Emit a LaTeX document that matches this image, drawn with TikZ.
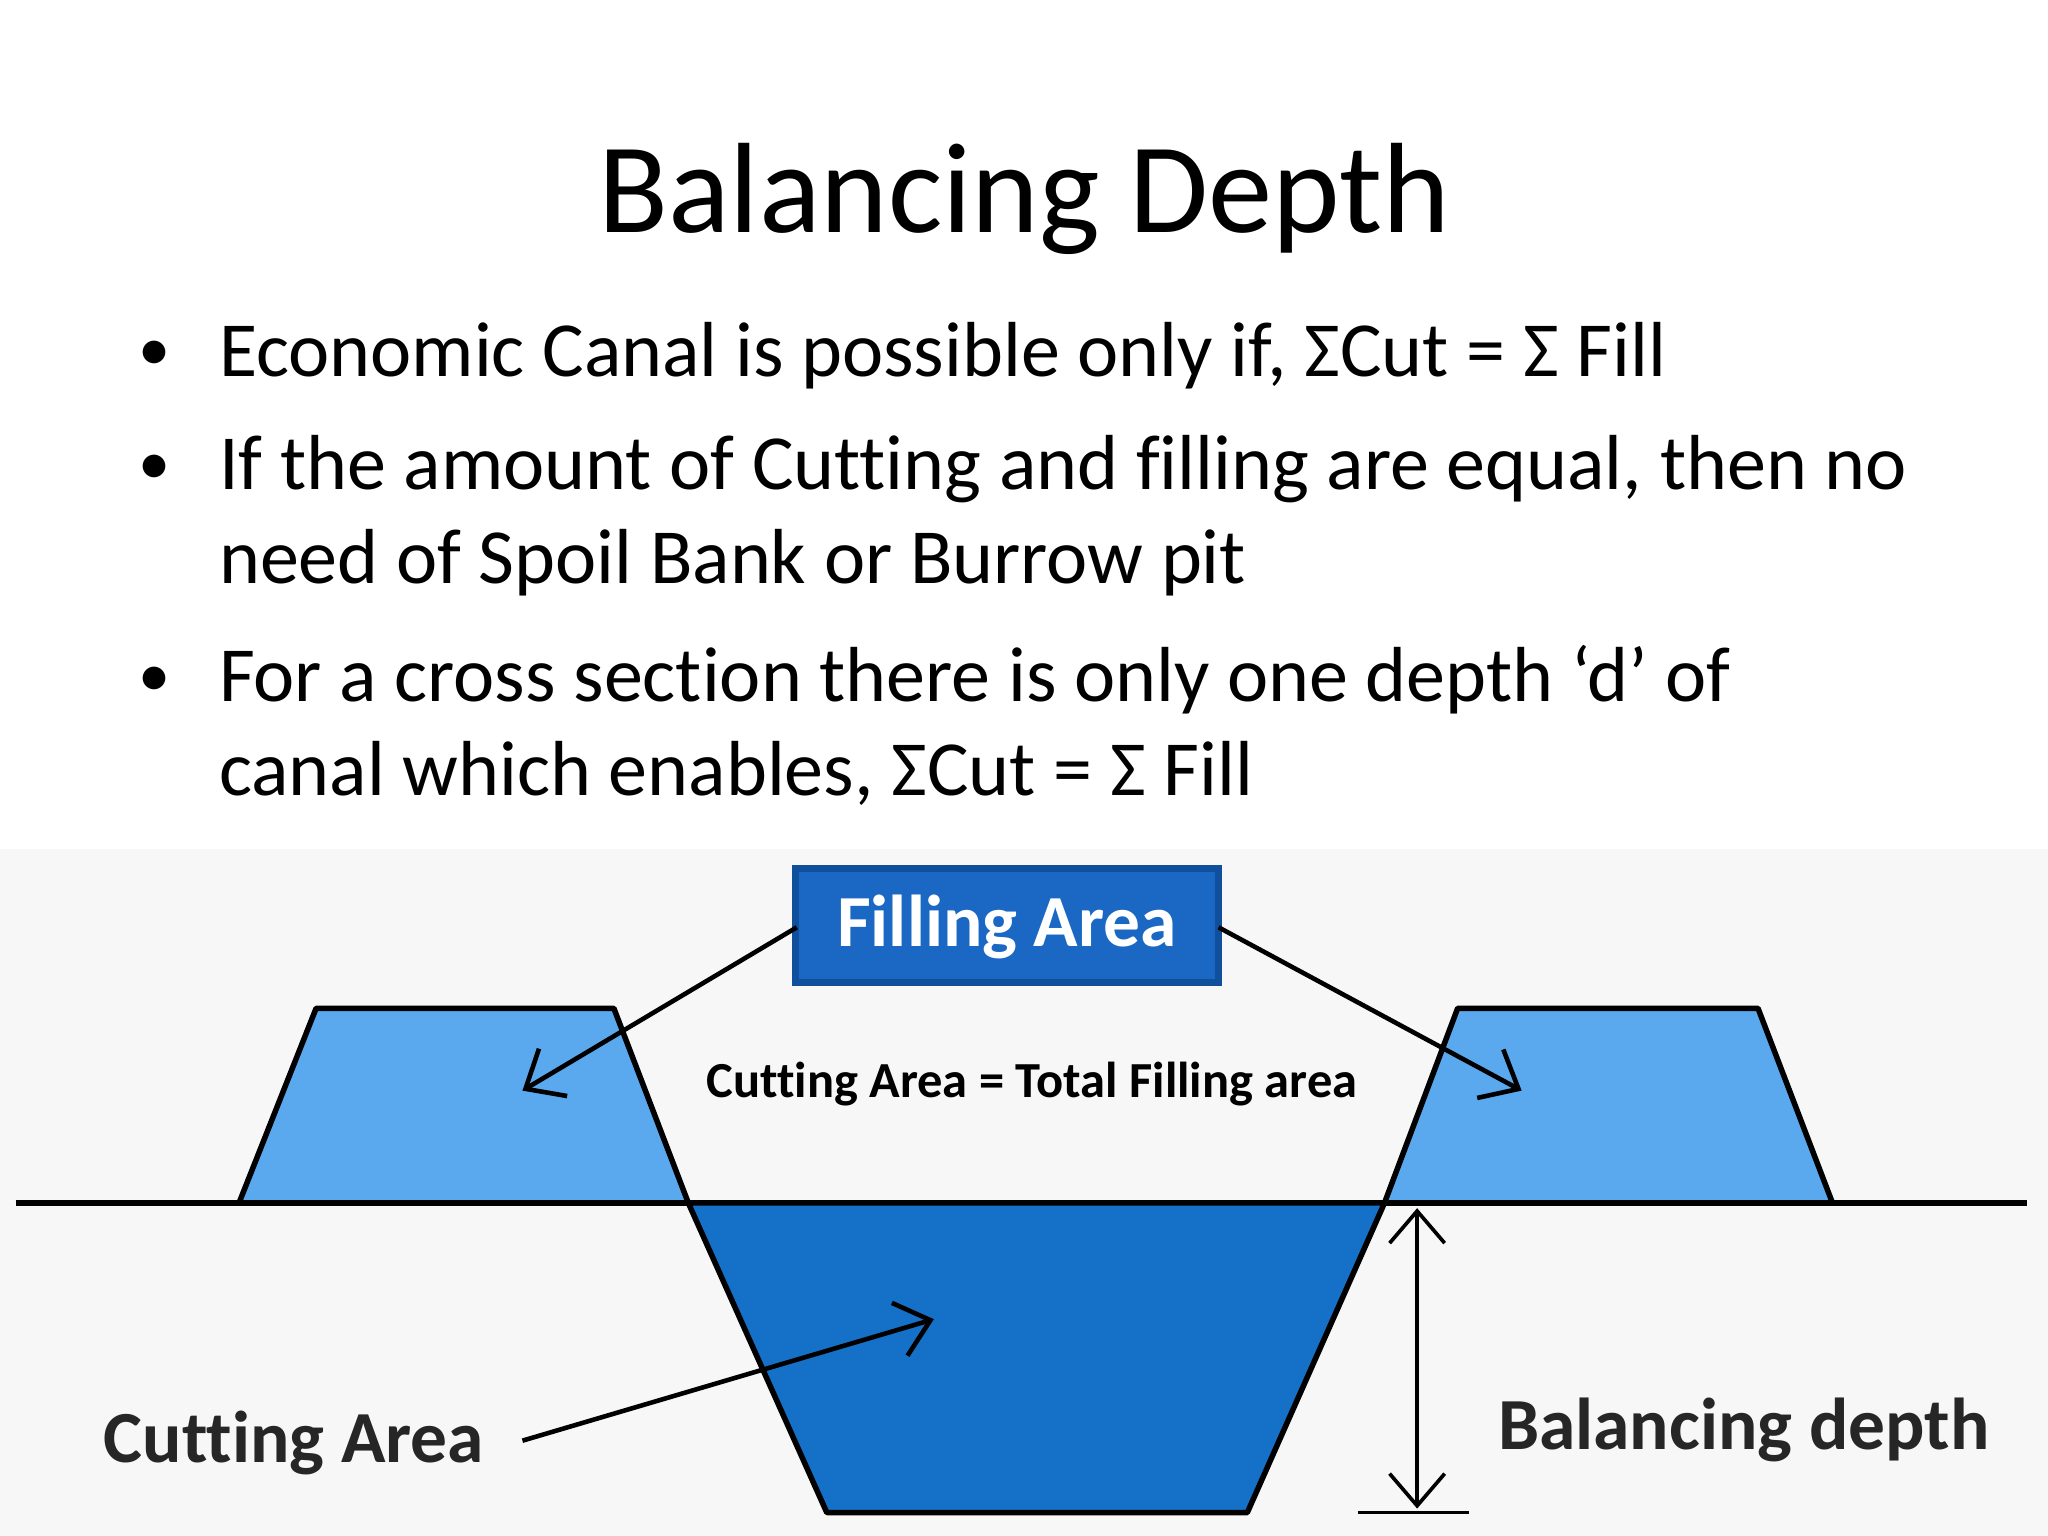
\documentclass[tikz,border=0pt]{standalone}
\usepackage{fontspec}
\setmainfont[Ligatures=NoCommon]{Carlito}
\usetikzlibrary{arrows.meta}
\definecolor{lb}{HTML}{5AA8EE}
\definecolor{db}{HTML}{1570C8}
\definecolor{boxb}{HTML}{1A68C4}
\definecolor{boxe}{HTML}{0F4F9C}
\tikzset{
 bank/.style={fill=lb,draw=black,line width=1.2pt,line join=round},
 cut/.style={fill=db,draw=black,line width=1.2pt,line join=round},
 arr/.style={draw=black,line width=1pt,-{Straight Barb[length=7pt,width=12pt]}},
 bul/.style={anchor=base west,font=\fontsize{17}{21}\selectfont},
 lbl/.style={font=\bfseries\fontsize{16}{19}\selectfont,text=black!85}
}
\begin{document}
\begin{tikzpicture}[x=0.1mm,y=-0.1mm]
\useasboundingbox (0,0) rectangle (1568,1176);
\fill[white] (0,0) rectangle (1568,1176);
\fill[black!3] (0,650) rectangle (1568,1176);
\node[font=\fontsize{28}{33}\selectfont,anchor=base] (title) at (784,178) {Balancing Depth};
\foreach \y/\t in {288/{Economic Canal is possible only if, ΣCut = Σ Fill},
 375/{If the amount of Cutting and filling are equal, then no},
 447/{need of Spoil Bank or Burrow pit},
 537/{For a cross section there is only one depth ‘d’ of},
 609/{canal which enables, ΣCut = Σ Fill}}
 {\node[bul,inner sep=0pt] at (167,\y) {\t};}
\foreach \y in {288,375,537}{\node[anchor=base,inner sep=0pt,font=\fontsize{14}{16}\selectfont] at (118,\y-4) {•};}
% ground
\draw[line width=1.2pt] (12,921) -- (1552,921);
\draw[bank] (183,921) -- (242,772) -- (470,772) -- (527,921) -- cycle;
\draw[bank] (1060,921) -- (1116,772) -- (1346,772) -- (1403,921) -- cycle;
\draw[cut] (527,921) -- (633,1158) -- (955,1158) -- (1060,921) -- cycle;
\draw[line width=0.8pt] (1040,1158) -- (1125,1158);
\coordinate (dt) at (1085,925);
\coordinate (db) at (1085,1155);
\draw[line width=0.8pt,{Straight Barb[length=7pt,width=12pt]}-{Straight Barb[length=7pt,width=12pt]}] (dt) -- (db);
\fill[boxb] (607,663) rectangle (935,754);
\draw[boxe,line width=1.5pt] (609,665) rectangle (933,752);
\node[text=white,font=\bfseries\fontsize{16}{19}\selectfont] (fa) at (771,710) {Filling Area};
\coordinate (fl) at (610,710); \coordinate (fr) at (933,710);
\coordinate (tl) at (400,835); \coordinate (tr) at (1165,835);
\draw[arr] (fl) -- (tl);
\draw[arr] (fr) -- (tr);
\node[font=\bfseries\fontsize{11}{13}\selectfont] (eq) at (790,830) {Cutting Area = Total Filling area};
\node[lbl] (ca) at (225,1105) {Cutting Area};
\coordinate (cs) at (400,1103); \coordinate (ce) at (715,1010);
\draw[arr] (cs) -- (ce);
\node[lbl] (bd) at (1335,1095) {Balancing depth};
\end{tikzpicture}
\end{document}
